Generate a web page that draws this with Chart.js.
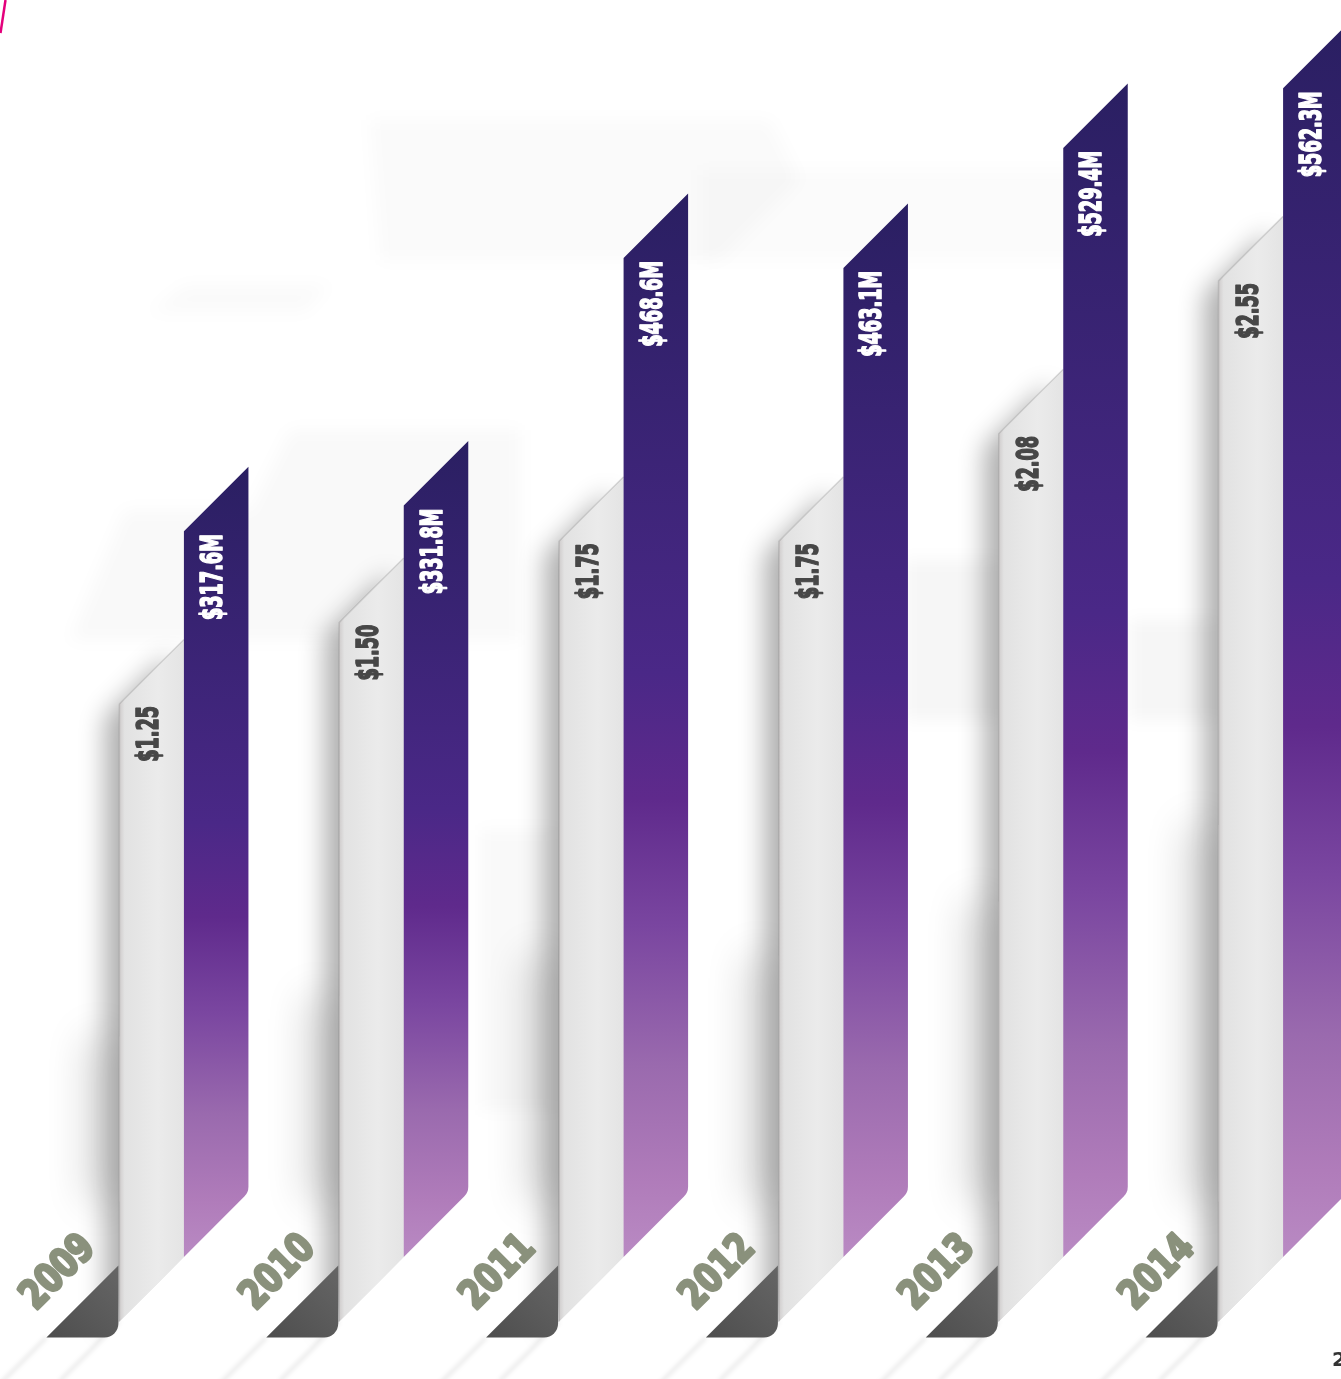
<!DOCTYPE html>
<html>
<head>
<meta charset="utf-8">
<script src="https://cdn.jsdelivr.net/npm/chart.js@4.4.1/dist/chart.umd.min.js"></script>
<style>
  html, body { margin: 0; padding: 0; background: #fff; overflow: hidden; }
  #wrap { width: 1420px; height: 1379px; }
</style>
</head>
<body>
<div id="wrap"><canvas id="chart" width="1420" height="1379"></canvas></div>
<script>
// data
const years = ["2009", "2010", "2011", "2012", "2013", "2014"];
const dividends = [1.25, 1.50, 1.75, 1.75, 2.08, 2.55];
const revenue = [317.6, 331.8, 468.6, 463.1, 529.4, 562.3];
const dividendLabels = ["$1.25", "$1.50", "$1.75", "$1.75", "$2.08", "$2.55"];
const revenueLabels = ["$317.6M", "$331.8M", "$468.6M", "$463.1M", "$529.4M", "$562.3M"];

// faint background shapes
const bgShapes = [
  { pts: [[70, 640], [125, 510], [250, 510], [290, 430], [520, 430], [520, 640]], a: 0.022 },
  { pts: [[150, 312], [185, 285], [330, 285], [305, 312]], a: 0.02 },
  { pts: [[370, 120], [770, 120], [800, 180], [720, 260], [380, 260]], a: 0.018 },
  { pts: [[700, 170], [1100, 170], [1100, 260], [700, 260]], a: 0.015 },
  { pts: [[905, 560], [1000, 560], [1000, 720], [905, 720]], a: 0.035 },
  { pts: [[1130, 620], [1218, 620], [1218, 720], [1130, 720]], a: 0.035 },
  { pts: [[480, 830], [560, 830], [560, 1110], [480, 1110]], a: 0.025 }
];

function fitFont(ctx, size, digitEm) {
  ctx.font = "bold " + size + "px 'DejaVu Sans Condensed', 'DejaVu Sans', sans-serif";
  return (digitEm * size) / ctx.measureText("0").width;
}

function drawRotated(ctx, text, x, y, angle, size, digitEm, color, align, weight) {
  ctx.save();
  const sx = fitFont(ctx, size, digitEm);
  ctx.translate(x, y);
  ctx.rotate(angle);
  ctx.scale(sx, 1);
  ctx.fillStyle = color;
  ctx.strokeStyle = color;
  ctx.lineWidth = weight;
  ctx.lineJoin = "round";
  ctx.textAlign = align;
  ctx.textBaseline = "middle";
  ctx.fillText(text, 0, 0);
  ctx.strokeText(text, 0, 0);
  ctx.restore();
}

const ribbonBars = {
  id: "ribbonBars",
  beforeDraw(chart) {
    const ctx = chart.ctx;
    ctx.save();
    ctx.fillStyle = "#ffffff";
    ctx.fillRect(0, 0, chart.width, chart.height);
    bgShapes.forEach(s => {
      ctx.beginPath();
      s.pts.forEach((p, k) => (k ? ctx.lineTo(p[0], p[1]) : ctx.moveTo(p[0], p[1])));
      ctx.closePath();
      ctx.fillStyle = "rgba(0,0,0," + s.a + ")";
      ctx.filter = "blur(8px)";
      ctx.fill();
    });
    ctx.filter = "none";
    // pink page mark top-left
    ctx.strokeStyle = "#e4007c";
    ctx.lineWidth = 2.5;
    ctx.beginPath();
    ctx.moveTo(5.5, 0);
    ctx.lineTo(0.5, 33);
    ctx.stroke();
    ctx.restore();
  },
  afterDatasetsDraw(chart) {
    const ctx = chart.ctx;
    const B = chart.chartArea.bottom;
    const grayMeta = chart.getDatasetMeta(0);
    const purpleMeta = chart.getDatasetMeta(1);

    years.forEach((yr, i) => {
      const g = grayMeta.data[i];
      const p = purpleMeta.data[i];
      const gw = g.width, pw = p.width;
      const gl = g.x - gw / 2, gr = g.x + gw / 2;
      const pl = p.x - pw / 2, pr = p.x + pw / 2;
      const cx = (gr + pl) / 2;
      const cut = x => B - (x - cx);

      // gray bar (dividend) with soft shadow on the left
      const grayPath = () => {
        ctx.beginPath();
        ctx.moveTo(gl, g.y + gw / 2);
        ctx.lineTo(gr, g.y - gw / 2);
        ctx.lineTo(gr, cut(gr));
        ctx.lineTo(gl, cut(gl));
        ctx.closePath();
      };
      ctx.save();
      ctx.beginPath();
      ctx.moveTo(cx - 400, cut(cx - 400));
      ctx.lineTo(cx + 400, cut(cx + 400));
      ctx.lineTo(cx + 400, -100);
      ctx.lineTo(cx - 400, -100);
      ctx.closePath();
      ctx.clip();
      ctx.shadowColor = "rgba(0,0,0,0.32)";
      ctx.shadowBlur = 26;
      ctx.shadowOffsetX = -14;
      ctx.shadowOffsetY = 14;
      grayPath();
      ctx.fillStyle = "#e6e6e6";
      ctx.fill();
      // wider, softer shadow on the lower part
      ctx.shadowColor = "rgba(0,0,0,0.22)";
      ctx.shadowBlur = 40;
      ctx.shadowOffsetX = -30;
      ctx.shadowOffsetY = 0;
      ctx.beginPath();
      const midY = (g.y + cut(gl)) / 2 + 40;
      ctx.moveTo(gl, midY);
      ctx.lineTo(gl + 20, midY);
      ctx.lineTo(gl + 20, cut(gl) - 120);
      ctx.lineTo(gl, cut(gl) - 120);
      ctx.closePath();
      ctx.fill();
      ctx.restore();

      ctx.save();
      grayPath();
      const gg = ctx.createLinearGradient(gl, 0, gr, 0);
      gg.addColorStop(0, "#cfcccc");
      gg.addColorStop(0.08, "#e2e2e2");
      gg.addColorStop(0.6, "#ebebeb");
      gg.addColorStop(1, "#e4e4e4");
      ctx.fillStyle = gg;
      ctx.fill();
      ctx.strokeStyle = "rgba(0,0,0,0.12)";
      ctx.lineWidth = 1.5;
      ctx.beginPath();
      ctx.moveTo(gl, cut(gl));
      ctx.lineTo(gl, g.y + gw / 2);
      ctx.lineTo(gr, g.y - gw / 2);
      ctx.stroke();
      ctx.restore();

      // purple bar (revenue)
      ctx.save();
      ctx.beginPath();
      ctx.moveTo(pl, p.y + pw / 2);
      ctx.lineTo(pr, p.y - pw / 2);
      ctx.arcTo(pr, cut(pr), pl, cut(pl), 14);
      ctx.lineTo(pl, cut(pl));
      ctx.closePath();
      const pg = ctx.createLinearGradient(0, p.y - pw / 2, 0, B);
      pg.addColorStop(0, "#2a1f62");
      pg.addColorStop(0.45, "#4a2887");
      pg.addColorStop(0.57, "#5f2a8c");
      pg.addColorStop(0.69, "#7a46a0");
      pg.addColorStop(0.82, "#9a6aae");
      pg.addColorStop(0.93, "#b07cba");
      pg.addColorStop(1, "#b98ac3");
      ctx.fillStyle = pg;
      ctx.fill();
      ctx.restore();

      // value labels
      drawRotated(ctx, dividendLabels[i], g.x - 1, g.y + gw / 2 + 2, -Math.PI / 2, 30, 0.41, "#474747", "right", 1.6);
      drawRotated(ctx, revenueLabels[i], p.x - 2, p.y + pw / 2 + 3, -Math.PI / 2, 30, 0.41, "#ffffff", "right", 1.6);

      // ribbon shading below the cut
      ctx.save();
      ctx.strokeStyle = "rgba(0,0,0,0.10)";
      ctx.lineWidth = 3;
      ctx.filter = "blur(2px)";
      ctx.beginPath();
      ctx.moveTo(gl - 73, cut(gl) + 16);
      ctx.lineTo(gl - 140, cut(gl) + 83);
      ctx.stroke();
      ctx.beginPath();
      ctx.moveTo(gl, cut(gl));
      ctx.lineTo(gl - 60, cut(gl) + 60);
      ctx.stroke();
      ctx.restore();

      // dark folded corner
      ctx.save();
      const top = cut(gl) - 56, bot = cut(gl) + 16;
      ctx.beginPath();
      ctx.moveTo(gl - 1, top);
      ctx.arcTo(gl - 1, bot, gl - 30, bot, 14);
      ctx.lineTo(gl - 1 - (bot - top), bot);
      ctx.closePath();
      const dg = ctx.createLinearGradient(gl - 70, bot, gl, top);
      dg.addColorStop(0, "#4e4e4e");
      dg.addColorStop(1, "#666666");
      ctx.fillStyle = dg;
      ctx.fill();
      ctx.restore();

      // year label
      drawRotated(ctx, yr, cx - 125, B + 16, -Math.PI / 4, 40, 0.54, "#8a917c", "center", 3);
    });

    // page number at the edge
    ctx.save();
    ctx.font = "bold 20px 'DejaVu Sans', sans-serif";
    ctx.fillStyle = "#333333";
    ctx.textBaseline = "middle";
    ctx.fillText("2", 1332, 1361);
    ctx.restore();
  }
};

new Chart(document.getElementById("chart"), {
  type: "bar",
  data: {
    labels: years,
    datasets: [
      {
        label: "Dividend",
        data: dividends,
        yAxisID: "yDiv",
        backgroundColor: "rgba(0,0,0,0)",
        borderWidth: 0
      },
      {
        label: "Revenue",
        data: revenue,
        yAxisID: "yRev",
        backgroundColor: "rgba(0,0,0,0)",
        borderWidth: 0
      }
    ]
  },
  options: {
    responsive: false,
    animation: false,
    layout: { padding: { left: 74, right: 27, top: 0, bottom: 122 } },
    categoryPercentage: 0.587,
    barPercentage: 1.0,
    plugins: { legend: { display: false }, tooltip: { enabled: false } },
    scales: {
      x: { display: false },
      yDiv: { display: false, min: -0.5486, max: 3.314 },
      yRev: { display: false, min: -101.2, max: 593.3 }
    }
  },
  plugins: [ribbonBars]
});
</script>
</body>
</html>
